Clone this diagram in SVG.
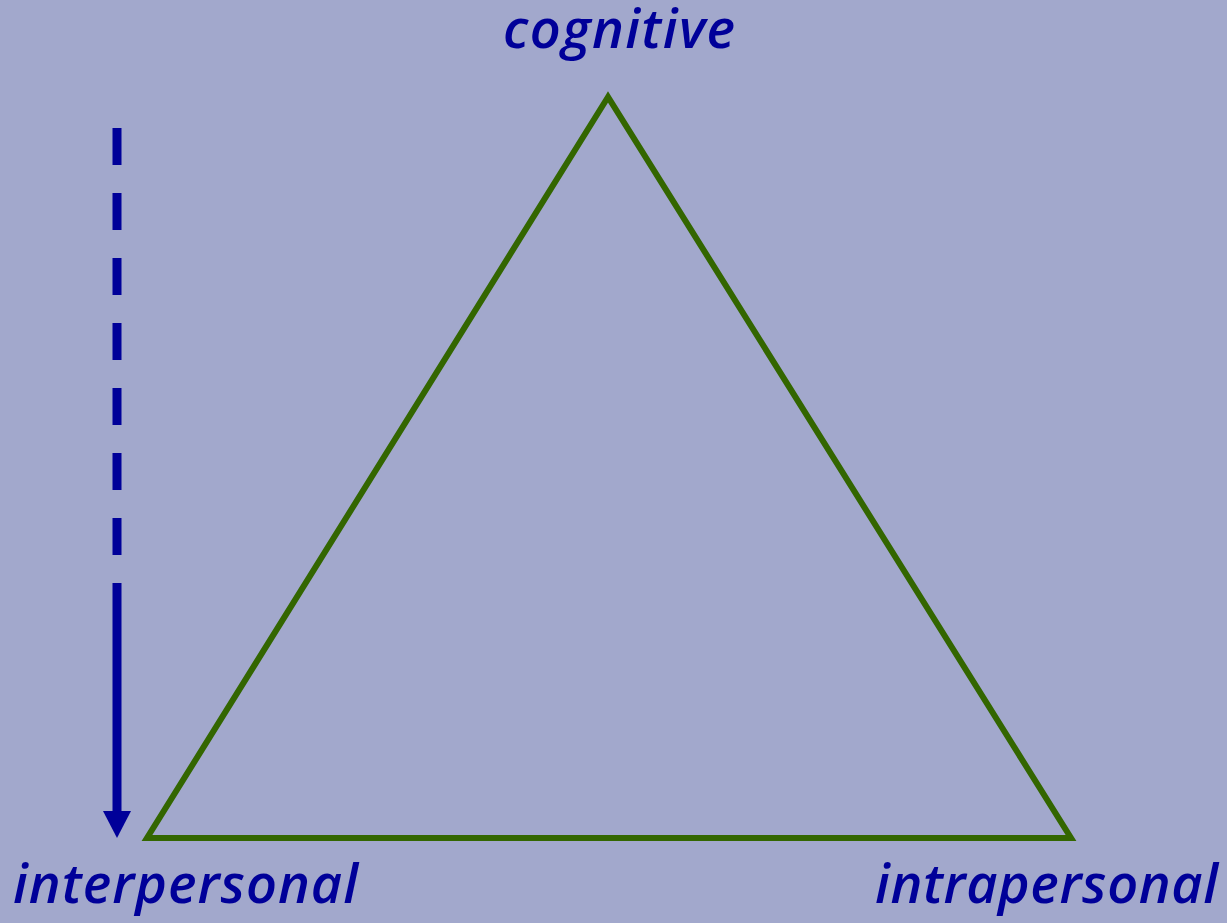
<svg xmlns="http://www.w3.org/2000/svg" width="1227" height="923" viewBox="0 0 1227 923">
<style>
.lbl{font-family:"Open Sans","Noto Sans",sans-serif;font-style:italic;font-weight:600;font-size:54px;fill:#000099}
</style>
<rect width="1227" height="923" fill="#a2a8cc"/>
<g id="triangle">
<polygon points="608,97 147,838 1071,838" fill="none" stroke="#336600" stroke-width="6" stroke-linejoin="miter"/>
</g>
<g id="cognitive"><text class="lbl" x="503" y="48" textLength="232" lengthAdjust="spacing">cognitive</text></g>
<g id="interpersonal"><text class="lbl" x="13" y="903" textLength="345" lengthAdjust="spacing">interpersonal</text></g>
<g id="intrapersonal"><text class="lbl" x="875" y="903" textLength="343" lengthAdjust="spacing">intrapersonal</text></g>
<g id="connectors">
<line x1="117" y1="128" x2="117" y2="556" stroke="#000099" stroke-width="9" stroke-dasharray="37,28"/>
<line x1="117" y1="583" x2="117" y2="812" stroke="#000099" stroke-width="9"/>
<polygon points="103,811 131,811 117,838" fill="#000099"/>
</g>
</svg>
